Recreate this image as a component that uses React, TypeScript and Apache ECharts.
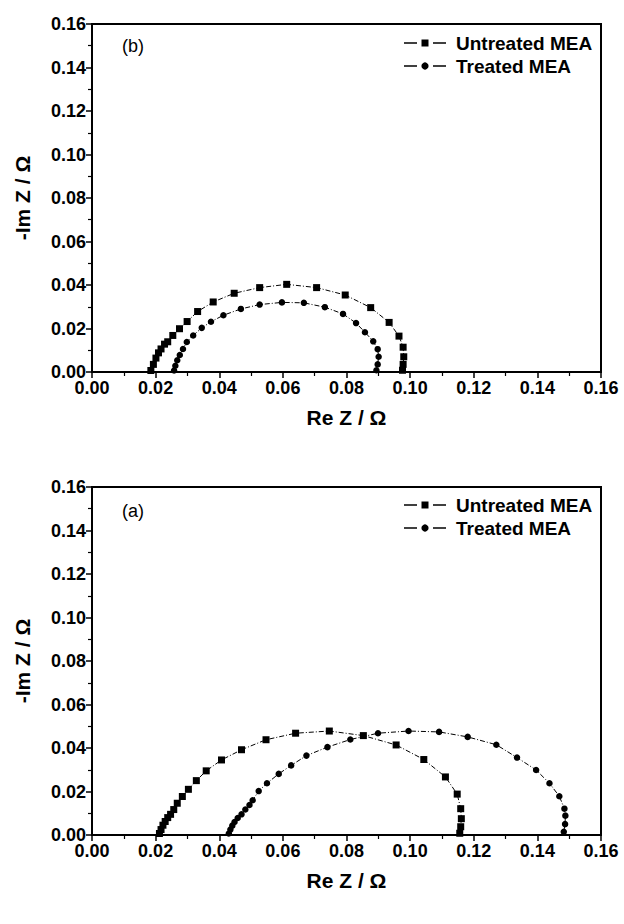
import React, { useEffect, useRef } from "react";
import * as echarts from "echarts";

// Axis ticks
const xTicks = [0, 0.02, 0.04, 0.06, 0.08, 0.1, 0.12, 0.14, 0.16];
const yTicks = [0, 0.02, 0.04, 0.06, 0.08, 0.1, 0.12, 0.14, 0.16];
const seriesNames = ["Untreated MEA", "Treated MEA"];
const panelLabels = ["(b)", "(a)"];

// Panel (b) – top
const bUntreatedRe = [0.0185, 0.0193, 0.0201, 0.0209, 0.0217, 0.0228, 0.0238, 0.0254, 0.0275, 0.0299, 0.0332, 0.0381, 0.0447, 0.0527, 0.0612, 0.0706, 0.0796, 0.0876, 0.0934, 0.0965, 0.0978, 0.098, 0.0978, 0.0976];
const bUntreatedIm = [0.0007, 0.0035, 0.0064, 0.0088, 0.0106, 0.0128, 0.0139, 0.0168, 0.0199, 0.0232, 0.0278, 0.0322, 0.0362, 0.0388, 0.0403, 0.0388, 0.0354, 0.0296, 0.0228, 0.0165, 0.0114, 0.007, 0.0035, 0.0008];
const bTreatedRe = [0.0258, 0.0262, 0.0268, 0.0276, 0.0286, 0.0298, 0.0318, 0.0345, 0.0374, 0.0413, 0.0468, 0.0527, 0.0597, 0.0666, 0.0732, 0.0789, 0.083, 0.0858, 0.0884, 0.0898, 0.0901, 0.0898, 0.0894];
const bTreatedIm = [0.0007, 0.0029, 0.0054, 0.0078, 0.0106, 0.0138, 0.0168, 0.0203, 0.0231, 0.0261, 0.029, 0.031, 0.032, 0.0318, 0.0298, 0.0267, 0.0225, 0.0183, 0.0141, 0.0105, 0.007, 0.0035, 0.0008];

// Panel (a) – bottom
const aUntreatedRe = [0.0212, 0.0217, 0.0223, 0.023, 0.0238, 0.0247, 0.0257, 0.0268, 0.0284, 0.0303, 0.0328, 0.0359, 0.0407, 0.047, 0.0547, 0.064, 0.0746, 0.0853, 0.0956, 0.1043, 0.1111, 0.1148, 0.1159, 0.1161, 0.1159, 0.1156];
const aUntreatedIm = [0.0007, 0.0025, 0.0045, 0.0062, 0.008, 0.0095, 0.0117, 0.0146, 0.0177, 0.021, 0.025, 0.0295, 0.0345, 0.0392, 0.0438, 0.0468, 0.0478, 0.0457, 0.0414, 0.0347, 0.0267, 0.0188, 0.0121, 0.0075, 0.0038, 0.0008];
const aTreatedRe = [0.043, 0.0435, 0.0441, 0.0448, 0.0458, 0.047, 0.0482, 0.0495, 0.0505, 0.0524, 0.055, 0.0587, 0.0626, 0.0674, 0.074, 0.0812, 0.0899, 0.0995, 0.1091, 0.1181, 0.1271, 0.1336, 0.1396, 0.1438, 0.1469, 0.1485, 0.1488, 0.1487, 0.1483];
const aTreatedIm = [0.0007, 0.0025, 0.0043, 0.006, 0.0078, 0.0095, 0.0117, 0.0138, 0.016, 0.0202, 0.0238, 0.0281, 0.032, 0.0365, 0.0404, 0.0439, 0.0468, 0.0478, 0.0474, 0.0451, 0.0415, 0.0356, 0.0299, 0.0238, 0.0178, 0.0121, 0.0089, 0.005, 0.0015];

const FONT = "Liberation Sans, Arial, sans-serif";
const zip = (xs: number[], ys: number[]) => xs.map((x, i) => [x, ys[i]]);

const GRIDS = [
  { left: 92, right: 23, top: 24, height: 348 },
  { left: 92, right: 23, top: 487, height: 348 },
];

const titleStyle = { fontSize: 21, fontWeight: "bold", color: "#000", fontFamily: FONT };
const tickLabelStyle = { color: "#000", fontSize: 18, fontWeight: "bold", fontFamily: FONT };

function makeXAxis(i: number) {
  return {
    type: "value",
    gridIndex: i,
    min: xTicks[0],
    max: xTicks[xTicks.length - 1],
    interval: 0.02,
    name: "Re Z / Ω",
    nameLocation: "middle",
    nameGap: 35,
    nameTextStyle: titleStyle,
    axisLine: { show: true, lineStyle: { color: "#000", width: 2 } },
    axisTick: { show: true, inside: false, length: 6, lineStyle: { color: "#000", width: 1.5 } },
    minorTick: { show: true, splitNumber: 2, length: 4, lineStyle: { color: "#000", width: 1.2 } },
    splitLine: { show: false },
    axisLabel: { ...tickLabelStyle, margin: 7, formatter: (v: number) => v.toFixed(2) },
  };
}

function makeYAxis(i: number) {
  return {
    type: "value",
    gridIndex: i,
    min: yTicks[0],
    max: yTicks[yTicks.length - 1],
    interval: 0.02,
    name: "-Im Z / Ω",
    nameLocation: "middle",
    nameRotate: 90,
    nameGap: 59,
    nameTextStyle: titleStyle,
    axisLine: { show: true, lineStyle: { color: "#000", width: 2 } },
    axisTick: { show: true, inside: false, length: 6, lineStyle: { color: "#000", width: 1.5 } },
    minorTick: { show: true, splitNumber: 2, length: 4, lineStyle: { color: "#000", width: 1.2 } },
    splitLine: { show: false },
    axisLabel: { ...tickLabelStyle, margin: 6, formatter: (v: number) => v.toFixed(2) },
  };
}

function makeSeries(name: string, idx: number, xs: number[], ys: number[], symbol: string, size: number) {
  return {
    name,
    type: "line",
    xAxisIndex: idx,
    yAxisIndex: idx,
    data: zip(xs, ys),
    symbol,
    symbolSize: size,
    showSymbol: true,
    color: "#000",
    itemStyle: { color: "#000" },
    lineStyle: { color: "#000", width: 1, type: [5, 2, 1, 2] },
    z: 3,
  };
}

// Hand-drawn legend entry: dash – marker – dash, then bold text
function legendEntry(x: number, y: number, marker: "square" | "circle", text: string) {
  const dash = { stroke: "#000", lineWidth: 1.5 };
  const markerEl =
    marker === "square"
      ? { type: "rect", shape: { x: x + 17.5, y: y - 3.5, width: 7, height: 7 }, style: { fill: "#000" } }
      : { type: "circle", shape: { cx: x + 21, cy: y, r: 3.6 }, style: { fill: "#000" } };
  return [
    { type: "line", shape: { x1: x, y1: y, x2: x + 13, y2: y }, style: dash },
    markerEl,
    { type: "line", shape: { x1: x + 29, y1: y, x2: x + 42, y2: y }, style: dash },
    {
      type: "text",
      x: x + 52,
      y,
      style: { text, fontSize: 19, fontWeight: "bold", fill: "#000", fontFamily: FONT, verticalAlign: "middle" },
    },
  ];
}

export default function App() {
  const ref = useRef<HTMLDivElement>(null);
  useEffect(() => {
    if (!ref.current) return;
    const chart = echarts.init(ref.current, null, { renderer: "svg" });
    const lx = 404;
    chart.setOption({
      animation: false,
      backgroundColor: "#fff",
      textStyle: { fontFamily: FONT },
      grid: GRIDS.map((g) => ({ ...g, show: true, borderColor: "#000", borderWidth: 2, backgroundColor: "transparent" })),
      xAxis: [makeXAxis(0), makeXAxis(1)],
      yAxis: [makeYAxis(0), makeYAxis(1)],
      series: [
        makeSeries(seriesNames[0], 0, bUntreatedRe, bUntreatedIm, "rect", 7),
        makeSeries(seriesNames[1], 0, bTreatedRe, bTreatedIm, "circle", 6.5),
        makeSeries(seriesNames[0], 1, aUntreatedRe, aUntreatedIm, "rect", 7),
        makeSeries(seriesNames[1], 1, aTreatedRe, aTreatedIm, "circle", 6.5),
      ],
      graphic: [
        { type: "text", left: 122, top: 37, style: { text: panelLabels[0], fontSize: 18, fill: "#000", fontFamily: FONT } },
        { type: "text", left: 122, top: 502, style: { text: panelLabels[1], fontSize: 18, fill: "#000", fontFamily: FONT } },
        ...legendEntry(lx, 43, "square", seriesNames[0]),
        ...legendEntry(lx, 66, "circle", seriesNames[1]),
        ...legendEntry(lx, 505, "square", seriesNames[0]),
        ...legendEntry(lx, 528, "circle", seriesNames[1]),
      ],
    });
    return () => chart.dispose();
  }, []);
  return <div ref={ref} style={{ position: "absolute", left: 0, top: 0, width: 624, height: 924 }} />;
}
